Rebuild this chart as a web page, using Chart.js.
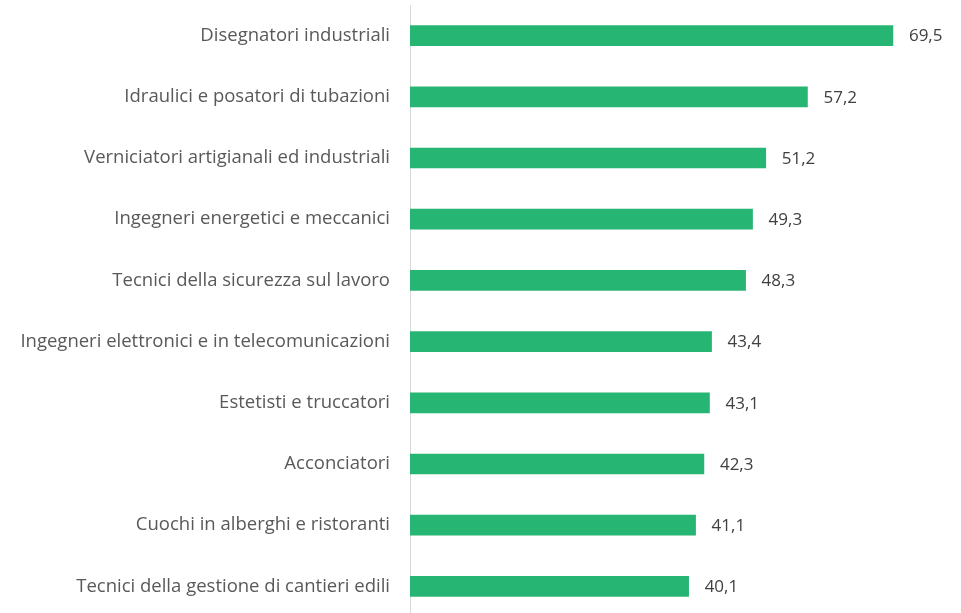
<!DOCTYPE html>
<html>
<head>
<meta charset="utf-8">
<script src="https://cdn.jsdelivr.net/npm/chart.js@4"></script>
<style>
  html, body { margin: 0; padding: 0; background: #fff; overflow: hidden; }
  #wrap { position: relative; width: 961px; height: 617px; }
</style>
</head>
<body>
<div id="wrap"><canvas id="chart"></canvas></div>
<script>
// professioni e valori (%)
const categories = [
    'Disegnatori industriali',
    'Idraulici e posatori di tubazioni',
    'Verniciatori artigianali ed industriali',
    'Ingegneri energetici e meccanici',
    'Tecnici della sicurezza sul lavoro',
    'Ingegneri elettronici e in telecomunicazioni',
    'Estetisti e truccatori',
    'Acconciatori',
    'Cuochi in alberghi e ristoranti',
    'Tecnici della gestione di cantieri edili'
];
const values = [69.5, 57.2, 51.2, 49.3, 48.3, 43.4, 43.1, 42.3, 41.1, 40.1];
const valueLabels = ['69,5', '57,2', '51,2', '49,3', '48,3', '43,4', '43,1', '42,3', '41,1', '40,1'];

const FONT = '"Open Sans", sans-serif';

// etichette dei valori a destra delle barre
const valueLabelPlugin = {
    id: 'valueLabels',
    afterDatasetsDraw(chart) {
        const ctx = chart.ctx;
        const meta = chart.getDatasetMeta(0);
        ctx.save();
        ctx.font = '17px ' + FONT;
        ctx.fillStyle = '#404040';
        ctx.textAlign = 'left';
        ctx.textBaseline = 'middle';
        meta.data.forEach((bar, i) => {
            ctx.fillText(valueLabels[i], bar.x + 16, bar.y + 1);
        });
        ctx.restore();
    }
};

new Chart(document.getElementById('chart'), {
    type: 'bar',
    data: {
        labels: categories,
        datasets: [{
            data: values,
            backgroundColor: '#27b573',
            borderWidth: 0,
            barThickness: 20
        }]
    },
    options: {
        indexAxis: 'y',
        responsive: true,
        maintainAspectRatio: false,
        animation: false,
        layout: { padding: { top: 5, right: 0, bottom: 0, left: 0 } },
        plugins: {
            legend: { display: false },
            tooltip: { enabled: false }
        },
        scales: {
            x: {
                min: 0,
                max: 79.3,
                display: false
            },
            y: {
                afterFit: (scale) => {
                    scale.width = 410;
                    scale.paddingTop = 0;
                    scale.paddingBottom = 0;
                },
                grid: { display: false, drawTicks: false },
                border: { display: true, color: '#d9d9d9', width: 1 },
                ticks: {
                    color: '#595959',
                    padding: 20,
                    font: { family: FONT, size: 18.5 }
                }
            }
        }
    },
    plugins: [valueLabelPlugin]
});
</script>
</body>
</html>
